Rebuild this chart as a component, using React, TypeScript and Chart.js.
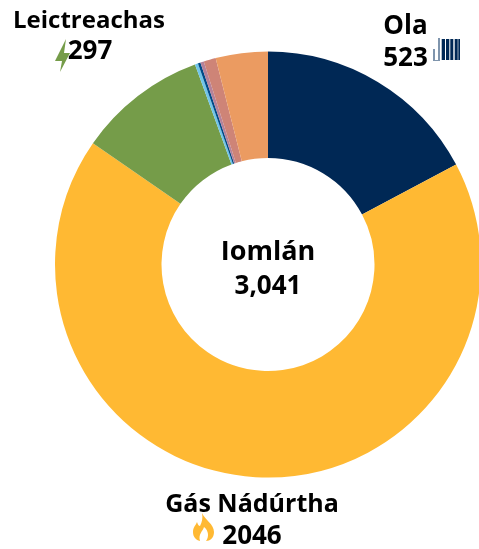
import React, { useEffect, useRef } from "react";
import { Chart, registerables } from "chart.js";

Chart.register(...registerables);

const categories = ["Ola", "Gás Nádúrtha", "Leictreachas", "Gorm éadrom", "Gorm", "Corcra", "Rós", "Oráiste"];
const values = [523, 2046, 297, 7, 6, 8, 28, 120];
const colors = ["#002855", "#FFB933", "#759C49", "#71C5E8", "#004B87", "#B5829A", "#CE8477", "#EB9B61"];
const totalLabel = "Iomlán";
const totalValue = "3,041";
const FONT = '"Open Sans"';

type Label = { text: string; x: number; y: number; size: number };
const labels: Label[] = [
  { text: totalLabel, x: 268, y: 252, size: 27 },
  { text: totalValue, x: 268, y: 287, size: 26 },
  { text: "Leictreachas", x: 89, y: 21, size: 24 },
  { text: "297", x: 90, y: 52, size: 26 },
  { text: "Ola", x: 405.5, y: 27, size: 26 },
  { text: "523", x: 405.5, y: 59, size: 26 },
  { text: "Gás Nádúrtha", x: 252, y: 505, size: 25 },
  { text: "2046", x: 252, y: 537, size: 26 },
];

const overlay = {
  id: "overlay",
  afterDraw(chart: Chart) {
    const c = chart.ctx;
    c.save();
    c.fillStyle = "#000";
    c.textBaseline = "middle";
    c.textAlign = "center";
    for (const l of labels) {
      c.font = `bold ${l.size}px ${FONT}`;
      c.fillText(l.text, l.x, l.y);
    }
    // lightning
    c.fillStyle = "#759C49";
    c.fill(new Path2D("M66 39 L55 61 L62 61 L60 72 L70 53 L64 53 Z"));
    // flame
    c.fillStyle = "#FFB933";
    c.fill(
      new Path2D(
        "M202 513 C205 520 214 524 214 532 C214 538 210 541 206 541 C209 537 209 531 204 527 C203 531 198 534 200 541 C196 540 193 537 193 532 C193 527 196 525 197 522 C198 525 199 526 200 526 C202 522 203 518 202 513 Z"
      )
    );
    // radiator
    c.fillStyle = "#002855";
    for (const [x, w] of [[441.7, 3.3], [446, 3.3], [450.3, 3], [454.7, 3], [458.3, 1.7]]) c.fillRect(x, 39, w, 21);
    c.fillStyle = "#7F95AD";
    c.fillRect(438, 38, 2, 23);
    c.fillRect(433, 49, 2, 11);
    c.fillRect(433, 60, 5, 1);
    c.restore();
  },
};

export default function App() {
  const ref = useRef<HTMLCanvasElement>(null);
  useEffect(() => {
    const chart = new Chart(ref.current!, {
      type: "doughnut",
      data: {
        labels: categories,
        datasets: [{ data: values, backgroundColor: colors, borderWidth: 0 }],
      },
      options: {
        animation: false,
        responsive: false,
        cutout: "50%",
        layout: { padding: { left: 55, right: 55, top: 51, bottom: 71 } },
        plugins: { legend: { display: false }, tooltip: { enabled: false } },
      },
      plugins: [overlay],
    });
    return () => chart.destroy();
  }, []);
  return (
    <div style={{ position: "fixed", left: 0, top: 0, width: 479, height: 549, overflow: "hidden", background: "#fff" }}>
      <canvas ref={ref} width={536} height={549} style={{ display: "block", width: 536, height: 549 }} />
    </div>
  );
}
